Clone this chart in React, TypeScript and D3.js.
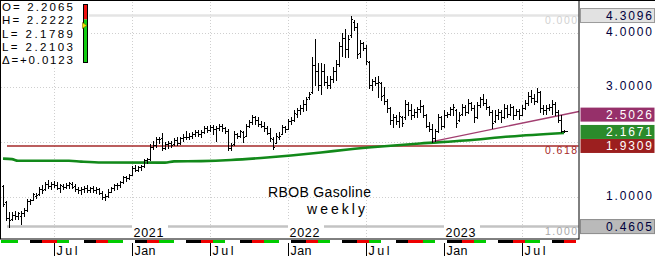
import React from 'react';
import * as d3 from 'd3';

const WEEK_MS = 7 * 24 * 3600 * 1000;
const firstWeek = Date.UTC(2020, 2, 9);

const opens = [1.20,0.90,0.62,0.60,0.68,0.66,0.66,0.70,0.76,0.92,0.95,1.02,1.05,1.15,1.14,1.24,1.20,1.23,1.22,1.17,1.20,1.18,1.22,1.24,1.20,1.15,1.12,1.15,1.17,1.13,1.17,1.12,1.15,1.08,1.00,1.02,1.10,1.16,1.21,1.22,1.27,1.36,1.34,1.41,1.53,1.50,1.55,1.56,1.68,1.69,1.92,1.95,2.05,2.08,1.90,1.96,1.98,1.96,2.04,1.99,2.07,2.10,2.10,2.12,2.15,2.18,2.15,2.19,2.25,2.23,2.28,2.24,2.26,2.30,2.25,2.20,1.90,1.96,2.14,2.12,2.18,2.12,2.30,2.36,2.45,2.40,2.34,2.30,2.25,2.17,2.05,1.99,2.10,2.14,2.28,2.24,2.38,2.40,2.52,2.58,2.62,2.70,2.82,2.92,3.40,3.30,3.05,3.30,3.10,3.05,3.15,3.30,3.42,3.75,3.90,3.70,3.95,4.20,4.10,3.62,3.80,3.72,3.46,3.05,3.12,3.08,3.08,2.86,2.75,2.62,2.40,2.45,2.38,2.45,2.45,2.70,2.58,2.50,2.55,2.60,2.66,2.50,2.30,2.24,2.08,2.20,2.45,2.30,2.50,2.52,2.60,2.58,2.40,2.52,2.65,2.55,2.72,2.62,2.45,2.68,2.78,2.72,2.65,2.55,2.38,2.50,2.55,2.45,2.62,2.52,2.64,2.50,2.56,2.50,2.62,2.72,2.85,2.80,2.75,2.92,2.62,2.58,2.62,2.65,2.70,2.55,2.40,2.2065];
const highs = [1.22,0.93,0.72,0.72,0.74,0.72,0.74,0.80,0.96,0.97,1.07,1.08,1.18,1.22,1.28,1.31,1.27,1.29,1.27,1.24,1.24,1.26,1.27,1.27,1.24,1.18,1.18,1.20,1.21,1.19,1.20,1.18,1.17,1.11,1.06,1.15,1.18,1.24,1.25,1.29,1.38,1.39,1.42,1.56,1.58,1.57,1.58,1.70,1.72,1.97,2.02,2.10,2.10,2.16,2.00,2.03,2.03,2.07,2.10,2.10,2.14,2.21,2.17,2.18,2.22,2.23,2.22,2.30,2.30,2.32,2.32,2.30,2.34,2.33,2.27,2.24,1.98,2.20,2.17,2.23,2.20,2.34,2.40,2.50,2.48,2.45,2.39,2.36,2.30,2.26,2.09,2.16,2.18,2.32,2.30,2.43,2.45,2.58,2.62,2.67,2.76,2.82,2.91,3.55,3.89,3.45,3.45,3.42,3.20,3.20,3.37,3.50,3.82,3.99,4.07,3.95,4.3096,4.22,4.17,3.86,3.83,3.77,3.48,3.16,3.18,3.20,3.10,3.01,2.79,2.64,2.52,2.50,2.55,2.48,2.76,2.73,2.70,2.61,2.64,2.76,2.68,2.52,2.36,2.33,2.24,2.52,2.47,2.58,2.55,2.64,2.70,2.61,2.55,2.70,2.67,2.79,2.73,2.67,2.73,2.82,2.88,2.79,2.66,2.58,2.58,2.61,2.58,2.70,2.67,2.70,2.66,2.61,2.61,2.67,2.76,2.91,2.95,2.88,2.98,2.94,2.67,2.67,2.70,2.76,2.73,2.58,2.49,2.2222];
const lows = [0.83,0.58,0.4605,0.58,0.60,0.60,0.51,0.65,0.74,0.87,0.94,0.98,1.04,1.08,1.12,1.17,1.14,1.19,1.14,1.10,1.15,1.16,1.17,1.16,1.11,1.08,1.05,1.10,1.10,1.09,1.10,1.07,1.05,0.96,0.945,1.00,1.09,1.13,1.15,1.18,1.26,1.30,1.32,1.40,1.48,1.48,1.50,1.55,1.62,1.68,1.88,1.92,1.98,1.86,1.88,1.90,1.92,1.95,1.94,1.97,2.03,2.06,2.05,2.08,2.12,2.12,2.10,2.16,2.18,2.20,2.15,2.03,2.22,2.20,2.17,1.86,1.85,1.95,2.08,2.10,2.00,2.12,2.28,2.33,2.33,2.30,2.27,2.21,2.14,2.03,1.88,1.99,2.05,2.14,2.19,2.24,2.33,2.39,2.45,2.52,2.57,2.58,2.78,2.90,3.05,2.95,2.88,3.05,2.98,2.98,3.10,3.13,3.38,3.58,3.55,3.55,3.92,4.05,3.53,3.56,3.68,3.43,2.98,2.95,3.04,2.83,2.76,2.70,2.55,2.34,2.27,2.33,2.27,2.30,2.43,2.50,2.43,2.46,2.46,2.55,2.46,2.27,2.21,2.01,2.03,2.18,2.24,2.28,2.46,2.50,2.49,2.27,2.38,2.50,2.49,2.53,2.58,2.36,2.44,2.64,2.67,2.61,2.49,2.25,2.36,2.43,2.36,2.44,2.46,2.49,2.43,2.49,2.43,2.49,2.60,2.67,2.73,2.70,2.74,2.55,2.52,2.52,2.58,2.52,2.49,2.36,2.18,2.1789];
const closes = [0.88,0.62,0.58,0.68,0.65,0.70,0.70,0.76,0.93,0.95,1.05,1.04,1.15,1.12,1.24,1.20,1.24,1.22,1.17,1.21,1.18,1.22,1.25,1.19,1.14,1.12,1.15,1.17,1.13,1.17,1.12,1.15,1.08,1.00,1.02,1.10,1.16,1.21,1.22,1.27,1.36,1.34,1.40,1.53,1.50,1.55,1.56,1.68,1.69,1.92,1.95,2.06,2.05,1.90,1.97,1.99,1.95,2.04,1.98,2.08,2.10,2.10,2.12,2.15,2.19,2.15,2.19,2.26,2.22,2.28,2.24,2.26,2.30,2.25,2.20,1.90,1.95,2.15,2.12,2.20,2.10,2.30,2.36,2.46,2.40,2.34,2.30,2.25,2.17,2.08,1.92,2.12,2.12,2.28,2.24,2.38,2.40,2.53,2.58,2.62,2.70,2.78,2.88,3.40,3.30,3.05,3.30,3.10,3.05,3.15,3.30,3.42,3.75,3.90,3.70,3.88,4.25,4.10,3.60,3.80,3.72,3.48,3.05,3.12,3.08,3.10,2.85,2.75,2.62,2.40,2.45,2.38,2.48,2.35,2.70,2.58,2.50,2.55,2.60,2.66,2.50,2.30,2.24,2.08,2.20,2.45,2.30,2.50,2.52,2.60,2.65,2.35,2.50,2.65,2.55,2.72,2.62,2.45,2.68,2.78,2.72,2.65,2.55,2.35,2.50,2.55,2.45,2.62,2.52,2.64,2.50,2.56,2.50,2.62,2.72,2.85,2.80,2.75,2.92,2.62,2.58,2.62,2.65,2.70,2.55,2.40,2.198,2.2103];

// Moving average (green), read at sample weeks
const maWeekIdx = [0, 3, 5, 22, 26, 33, 54, 57, 66, 76, 86, 96, 106, 115, 126, 139, 154, 169, 187];
const maValues = [1.699, 1.690, 1.662, 1.660, 1.645, 1.628, 1.626, 1.650, 1.655, 1.675, 1.711, 1.757, 1.812, 1.866, 1.921, 1.976, 2.030, 2.103, 2.1671];

// Trend line (purple)
const trendWeekIdx = [143, 187];
const trendValues = [2.01, 2.5026];

const priceTicks = [1, 2, 3, 4];
const fibLevels = [0, 0.618, 1];
const fibLabels = ['0.000', '0.618', '1.000'];
const monthNames = ['Jan', 'Feb', 'Mar', 'Apr', 'May', 'Jun', 'Jul', 'Aug', 'Sep', 'Oct', 'Nov', 'Dec'];
const tickMonths = [0, 6];
const stripeColors = ['#000000', '#ee0000', '#00cc00', '#ffffff'];
const titleLines = ['RBOB Gasoline', 'weekly'];

const FONT = '"Liberation Sans", Arial, Helvetica, sans-serif';

export default function App() {
  const N = opens.length;
  const dates = opens.map((_, i) => new Date(firstWeek + i * WEEK_MS));
  const x = d3.scaleUtc().domain([dates[0], dates[N - 1]]).range([3, 564]);
  const y = d3.scaleLinear().domain([1, 4]).range([197, 32.5]);
  const xw = (w: number) => x(new Date(firstWeek + w * WEEK_MS));
  const bx = (i: number) => Math.round(xw(i));

  const plotRight = 579;
  const plotBottom = 239;

  const hi = d3.max(highs) as number;
  const lo = d3.min(lows) as number;
  const loIdx = lows.indexOf(lo);
  const fibVal = (f: number) => hi - f * (hi - lo);

  const monthStarts: number[] = [];
  dates.forEach((d, i) => {
    if (i === 0 || d.getUTCMonth() !== dates[i - 1].getUTCMonth()) monthStarts.push(i);
  });

  const stripes = monthStarts.map((si, k) => {
    const m = dates[si].getUTCMonth();
    const x0 = k === 0 ? 1 : bx(si) + 2.5;
    const x1 = k === monthStarts.length - 1 ? 576 : bx(monthStarts[k + 1]) + 2.5;
    return { x0, x1, color: stripeColors[m % 4] };
  });

  const ticks = monthStarts
    .filter((si) => si > 0 && tickMonths.includes(dates[si].getUTCMonth()))
    .map((si) => ({ x: bx(si), m: dates[si].getUTCMonth(), year: dates[si].getUTCFullYear() }));

  const maLine = d3
    .line<number>()
    .x((_, k) => xw(maWeekIdx[k]))
    .y((v) => y(v))
    .curve(d3.curveMonotoneX)(maValues) as string;

  const tx1 = xw(trendWeekIdx[0]);
  const ty1 = y(trendValues[0]);
  const tx2 = xw(trendWeekIdx[1]);
  const ty2 = y(trendValues[1]);
  const tSlope = (ty2 - ty1) / (tx2 - tx1);
  const tyEnd = ty1 + tSlope * (plotRight - tx1);

  const fmt = d3.format('.4f');
  const last = N - 1;
  const delta = closes[last] - closes[last - 1];
  const legendRows = [
    `O= ${fmt(opens[last])}`,
    `H= ${fmt(highs[last])}`,
    `L= ${fmt(lows[last])}`,
    `L= ${fmt(closes[last])}`,
    `Δ=${d3.format('+.4f')(delta)}`,
  ];

  const maLast = maValues[maValues.length - 1];
  const trendLast = trendValues[trendValues.length - 1];
  const boxesRaw = [
    { v: hi, fill: '#e2e2e2', stroke: '#9a9a9a', text: '#00003c' },
    { v: trendLast, fill: '#96306a', stroke: 'none', text: '#ffffff' },
    { v: maLast, fill: '#2b8b2b', stroke: 'none', text: '#ffffff' },
    { v: fibVal(0.618), fill: '#9c1f1f', stroke: 'none', text: '#ffffff' },
    { v: lo, fill: '#bababa', stroke: '#8a8a8a', text: '#00003c' },
  ];
  const boxes = boxesRaw.map((b) => ({ ...b, c: y(b.v) })).sort((a, b) => b.c - a.c);
  for (let k = 1; k < boxes.length; k++) {
    if (boxes[k].c > boxes[k - 1].c - 14) boxes[k].c = boxes[k - 1].c - 14;
  }

  const axisLabels = priceTicks.filter((t) => boxes.every((b) => Math.abs(b.c - y(t)) > 11));

  const fibColors = [
    { stroke: '#e4e4e4', width: 2.5, text: '#d2d2d2' },
    { stroke: '#a52828', width: 1.5, text: '#a52828' },
    { stroke: '#c3c3c3', width: 2.5, text: '#a8a8a8' },
  ];
  const fibX0 = bx(loIdx) - 2;

  return (
    <svg
      width={655}
      height={258}
      style={{ position: 'absolute', left: 0, top: 0, background: '#ffffff' }}
      fontFamily={FONT}
    >
      <rect x={0} y={0} width={655} height={258} fill="#ffffff" />

      {priceTicks.map((t) => (
        <line key={'hg' + t} x1={1} x2={plotRight - 1} y1={Math.round(y(t)) + 0.5} y2={Math.round(y(t)) + 0.5}
          stroke="#cfcfcf" strokeDasharray="1 2" />
      ))}
      {ticks.map((t) => (
        <line key={'vg' + t.x} x1={t.x + 0.5} x2={t.x + 0.5} y1={2} y2={plotBottom - 1}
          stroke="#cfcfcf" strokeDasharray="1 2" />
      ))}

      {fibLevels.map((f, k) => (
        <line key={'fib' + k} x1={fibX0} x2={plotRight - 0.5} y1={y(fibVal(f))} y2={y(fibVal(f))}
          stroke={fibColors[k].stroke} strokeWidth={fibColors[k].width} />
      ))}
      {fibLevels.map((f, k) => (
        <text key={'fibt' + k} x={577} y={y(fibVal(f)) + 8.5} fontSize={10.5} textAnchor="end"
          fill={fibColors[k].text} textLength={32} lengthAdjust="spacing">{fibLabels[k]}</text>
      ))}

      <path d={maLine} fill="none" stroke="#12891a" strokeWidth={2.6} />
      <line x1={tx1} y1={ty1} x2={plotRight} y2={tyEnd} stroke="#a23e70" strokeWidth={1.4} />

      <g shapeRendering="crispEdges" fill="#000">
        {opens.map((o, i) => {
          const X = bx(i);
          const yH = Math.round(y(highs[i]));
          const yL = Math.round(y(lows[i]));
          return (
            <g key={'b' + i}>
              <rect x={X} y={yH} width={1} height={Math.max(1, yL - yH + 1)} />
              <rect x={X - 1} y={Math.round(y(o))} width={1} height={1} />
              <rect x={X + 1} y={Math.round(y(closes[i]))} width={i === last ? 3 : 1} height={1} />
            </g>
          );
        })}
      </g>

      {ticks.filter((t) => t.m === 0).map((t) => (
        <g key={'yr' + t.year}>
          <rect x={t.x} y={220} width={36} height={18} fill="#ffffff" />
          <text x={t.x + 1.5} y={237} fontSize={12.5} fill="#000" textLength={30} lengthAdjust="spacing">{t.year}</text>
        </g>
      ))}

      <text x={268} y={197} fontSize={14} fill="#000" textLength={103} lengthAdjust="spacing">{titleLines[0]}</text>
      <text x={307} y={214} fontSize={14} fill="#000" textLength={58} lengthAdjust="spacing">{titleLines[1]}</text>

      <rect x={1} y={1} width={88} height={66} fill="#ffffff" />
      {legendRows.map((r, k) => (
        <text key={'lg' + k} x={2} y={11 + k * 13.25} fontSize={11.5} fill="#000" textLength={71} lengthAdjust="spacing">{r}</text>
      ))}
      <rect x={83.5} y={4.5} width={4} height={15} fill="#ee1111" />
      <rect x={83.5} y={19.5} width={4} height={43} fill="#11cc11" />
      <rect x={83.5} y={4.5} width={4} height={58} fill="none" stroke="#000" strokeWidth={1} />
      <polygon points="82.5,22.5 86.8,25.5 82.5,28.5" fill="#f2e200" stroke="#7a6400" strokeWidth={0.6} />

      <rect x={0.5} y={0.5} width={plotRight - 0.5} height={plotBottom - 0.5} fill="none" stroke="#000" strokeWidth={1} />
      <line x1={0} x2={655} y1={0.5} y2={0.5} stroke="#000" strokeWidth={1} />

      <g shapeRendering="crispEdges">
        {stripes.map((s, k) => (
          <rect key={'st' + k} x={s.x0} y={240} width={Math.max(0, s.x1 - s.x0)} height={3} fill={s.color} />
        ))}
      </g>

      {ticks.map((t) => (
        <g key={'tk' + t.x}>
          <line x1={t.x + 0.5} x2={t.x + 0.5} y1={243} y2={256} stroke="#000" strokeWidth={1} />
          <text x={t.x + 2.5} y={254.5} fontSize={12.5} fill="#000" textLength={21} lengthAdjust="spacing">{monthNames[t.m]}</text>
        </g>
      ))}

      {axisLabels.map((t) => (
        <text key={'ax' + t} x={652} y={y(t) + 3} fontSize={12} textAnchor="end" fill="#00003c"
          textLength={46} lengthAdjust="spacing">{d3.format('.4f')(t)}</text>
      ))}
      {boxes.map((b, k) => (
        <g key={'bx' + k}>
          <rect x={580.5} y={b.c - 7} width={74} height={14} fill={b.fill} stroke={b.stroke} strokeWidth={1} />
          <text x={652} y={b.c + 4.5} fontSize={12} textAnchor="end" fill={b.text}
            textLength={46} lengthAdjust="spacing">{fmt(b.v)}</text>
        </g>
      ))}
    </svg>
  );
}
